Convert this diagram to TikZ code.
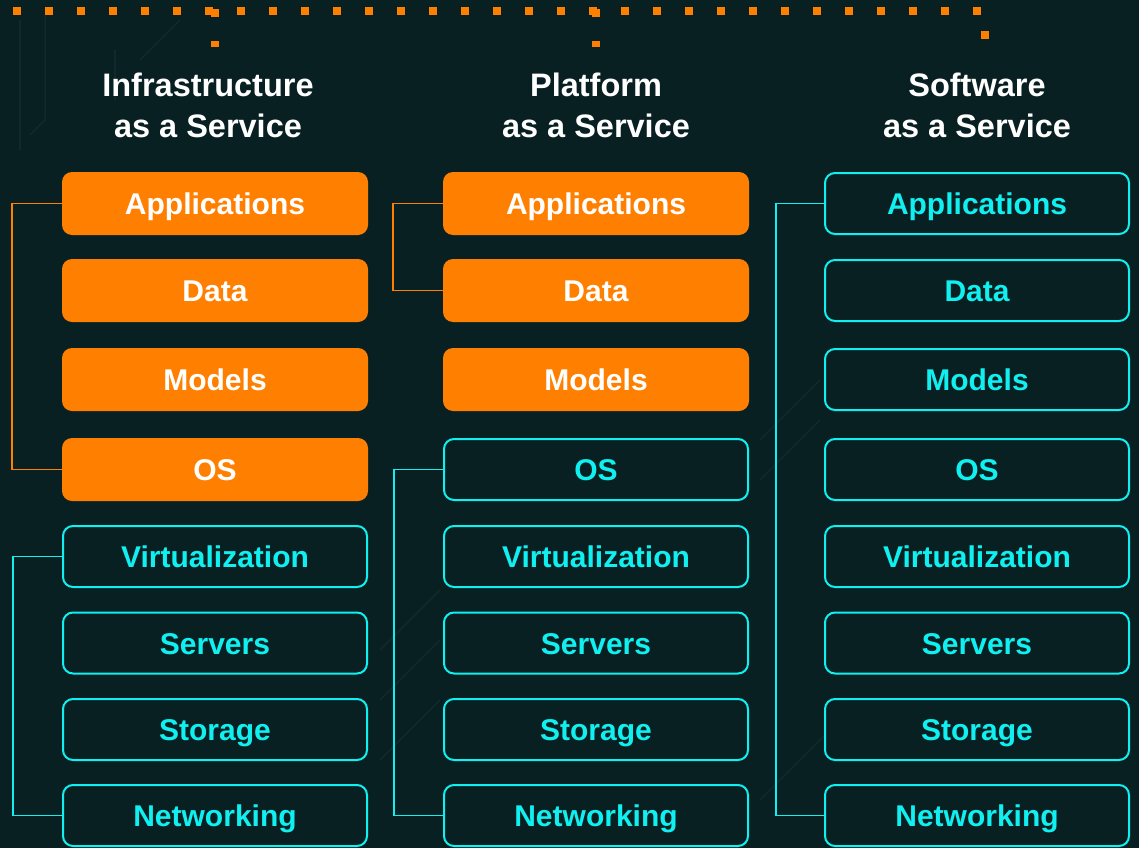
\documentclass[tikz,border=0pt]{standalone}
\usepackage{fontspec}
\setmainfont{Liberation Sans}
\definecolor{bg}{HTML}{092022}
\definecolor{org}{HTML}{FF8000}
\definecolor{cy}{HTML}{10F0F0}
\definecolor{trace}{HTML}{10292B}
\tikzset{
  fillbox/.style={fill=org, draw=none, rounded corners=10pt, minimum width=306pt, minimum height=63pt,
     inner sep=0pt, text=white, font=\bfseries\fontsize{30}{30}\selectfont, text height=22pt, text depth=0pt},
  linebox/.style={fill=bg, draw=cy, line width=2pt, rounded corners=10pt, minimum width=304pt, minimum height=61pt,
     inner sep=0pt, text=cy, font=\bfseries\fontsize{30}{30}\selectfont, text height=22pt, text depth=0pt},
  title/.style={text=white, align=center, font=\bfseries\fontsize{32.5}{41}\selectfont},
  oline/.style={draw=org, line width=1.6pt},
  cline/.style={draw=cy, line width=1.8pt},
  dot/.style={fill=org, draw=none}
}
\begin{document}
\begin{tikzpicture}[x=1pt,y=-1pt]
\fill[bg] (0,0) rectangle (1139,848);
\useasboundingbox (0,0) rectangle (1139,848);
% faint traces
\begin{scope}[draw=trace, line width=1.5pt]
\draw (20,20) -- (20,150); \draw (45,15) -- (45,120) -- (30,135);
\draw (115,50) -- (115,100); \draw (140,60) -- (180,20);
\draw (760,440) -- (820,380); \draw (760,480) -- (820,420);
\draw (380,650) -- (440,590); \draw (380,700) -- (440,640);
\draw (380,760) -- (440,700);
\draw (760,800) -- (830,730);
\end{scope}
% top dots
\foreach \i in {0,...,30} \fill[dot] (17+32*\i-4,7) rectangle ++(8,8);
\fill[dot] (211,9) rectangle ++(8,8);
\fill[dot] (211,41) rectangle ++(8,6);
\fill[dot] (592,9) rectangle ++(8,8);
\fill[dot] (592,41) rectangle ++(8,6);
\fill[dot] (981,31) rectangle ++(8,8);
% titles
\node[title] (t1) at (208,105) {Infrastructure\\as a Service};
\node[title] (t2) at (596,105) {Platform\\as a Service};
\node[title] (t3) at (977,105) {Software\\as a Service};
% column 1
\node[fillbox] (a1) at (215,203.5) {Applications};
\node[fillbox] (a2) at (215,290.5) {Data};
\node[fillbox] (a3) at (215,379.5) {Models};
\node[fillbox] (a4) at (215,469.5) {OS};
\node[linebox] (a5) at (215,556.5) {Virtualization};
\node[linebox] (a6) at (215,643) {Servers};
\node[linebox] (a7) at (215,729.5) {Storage};
\node[linebox] (a8) at (215,815.5) {Networking};
% column 2
\node[fillbox] (b1) at (596,203.5) {Applications};
\node[fillbox] (b2) at (596,290.5) {Data};
\node[fillbox] (b3) at (596,379.5) {Models};
\node[linebox] (b4) at (596,469.5) {OS};
\node[linebox] (b5) at (596,556.5) {Virtualization};
\node[linebox] (b6) at (596,643) {Servers};
\node[linebox] (b7) at (596,729.5) {Storage};
\node[linebox] (b8) at (596,815.5) {Networking};
% column 3
\node[linebox] (c1) at (977,203.5) {Applications};
\node[linebox] (c2) at (977,290.5) {Data};
\node[linebox] (c3) at (977,379.5) {Models};
\node[linebox] (c4) at (977,469.5) {OS};
\node[linebox] (c5) at (977,556.5) {Virtualization};
\node[linebox] (c6) at (977,643) {Servers};
\node[linebox] (c7) at (977,729.5) {Storage};
\node[linebox] (c8) at (977,815.5) {Networking};
% brackets
\draw[oline] (a1.west) -- ++(-50,0) |- (a4.west);
\draw[cline] (a5.west) -- ++(-49,0) |- (a8.west);
\draw[oline] (b1.west) -- ++(-50,0) |- (b2.west);
\draw[cline] (b4.west) -- ++(-49,0) |- (b8.west);
\draw[cline] (c1.west) -- ++(-48,0) |- (c8.west);
\end{tikzpicture}
\end{document}
